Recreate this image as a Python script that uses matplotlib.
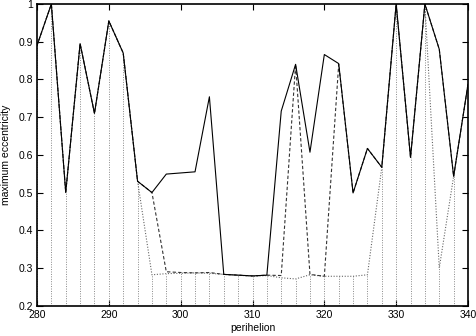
import matplotlib
matplotlib.use("Agg")
import matplotlib.pyplot as plt
from matplotlib.ticker import FixedLocator, FuncFormatter

plt.rcParams['font.family'] = ['Liberation Sans', 'DejaVu Sans']

perihelion = list(range(280, 341, 2))

solid_ecc = [0.89, 1.0, 0.5, 0.895, 0.71, 0.955, 0.87, 0.53, 0.5, 0.549, 0.552,
             0.555, 0.754, 0.283, 0.281, 0.279, 0.281, 0.716, 0.84, 0.607, 0.866,
             0.842, 0.499, 0.617, 0.567, 1.0, 0.593, 1.0, 0.88, 0.543, 0.787]

dashed_ecc = [0.89, 1.0, 0.5, 0.895, 0.71, 0.955, 0.87, 0.53, 0.5, 0.29, 0.288,
              0.287, 0.288, 0.283, 0.281, 0.279, 0.281, 0.28, 0.84, 0.283, 0.278,
              0.84, 0.499, 0.617, 0.567, 1.0, 0.593, 1.0, 0.88, 0.543, 0.787]

dotted_ecc = [0.89, 1.0, 0.5, 0.895, 0.71, 0.955, 0.87, 0.53, 0.282, 0.285, 0.286,
              0.287, 0.286, 0.283, 0.281, 0.278, 0.28, 0.274, 0.271, 0.282, 0.278,
              0.278, 0.278, 0.282, 0.567, 1.0, 0.593, 1.0, 0.30, 0.543, 0.787]

x_ticks = [280, 290, 300, 310, 320, 330, 340]
y_ticks = [0.2, 0.3, 0.4, 0.5, 0.6, 0.7, 0.8, 0.9, 1.0]

fig = plt.figure(figsize=(4.76, 3.36), dpi=100)
ax = fig.add_axes([37/476, 1 - 305.7/336, 431/476, (305.7 - 4)/336])

ax.vlines(perihelion, 0.2, dotted_ecc, colors='#888888', linewidth=0.7,
          linestyles=(0, (1.0, 1.5)))
ax.plot(perihelion, dotted_ecc, color='#666666', linewidth=0.8,
        linestyle=(0, (1.0, 1.5)))
ax.plot(perihelion, dashed_ecc, color='#333333', linewidth=0.8,
        linestyle=(0, (3.0, 2.0)))
ax.plot(perihelion, solid_ecc, color='black', linewidth=0.8)

ax.set_xlim(280, 340)
ax.set_ylim(0.2, 1.0)
ax.xaxis.set_major_locator(FixedLocator(x_ticks))
ax.yaxis.set_major_locator(FixedLocator(y_ticks))
ax.yaxis.set_major_formatter(FuncFormatter(lambda v, p: ('%g' % round(v, 2))))
ax.tick_params(direction='in', length=4, width=0.8, labelsize=7.5,
               top=True, right=True, pad=3)
for s in ax.spines.values():
    s.set_linewidth(1.2)
ax.set_xlabel('perihelion', fontsize=7.5, labelpad=2)
ax.set_ylabel('maximum eccentricity', fontsize=7.5, labelpad=5)

fig.savefig('out.png', dpi=100)
